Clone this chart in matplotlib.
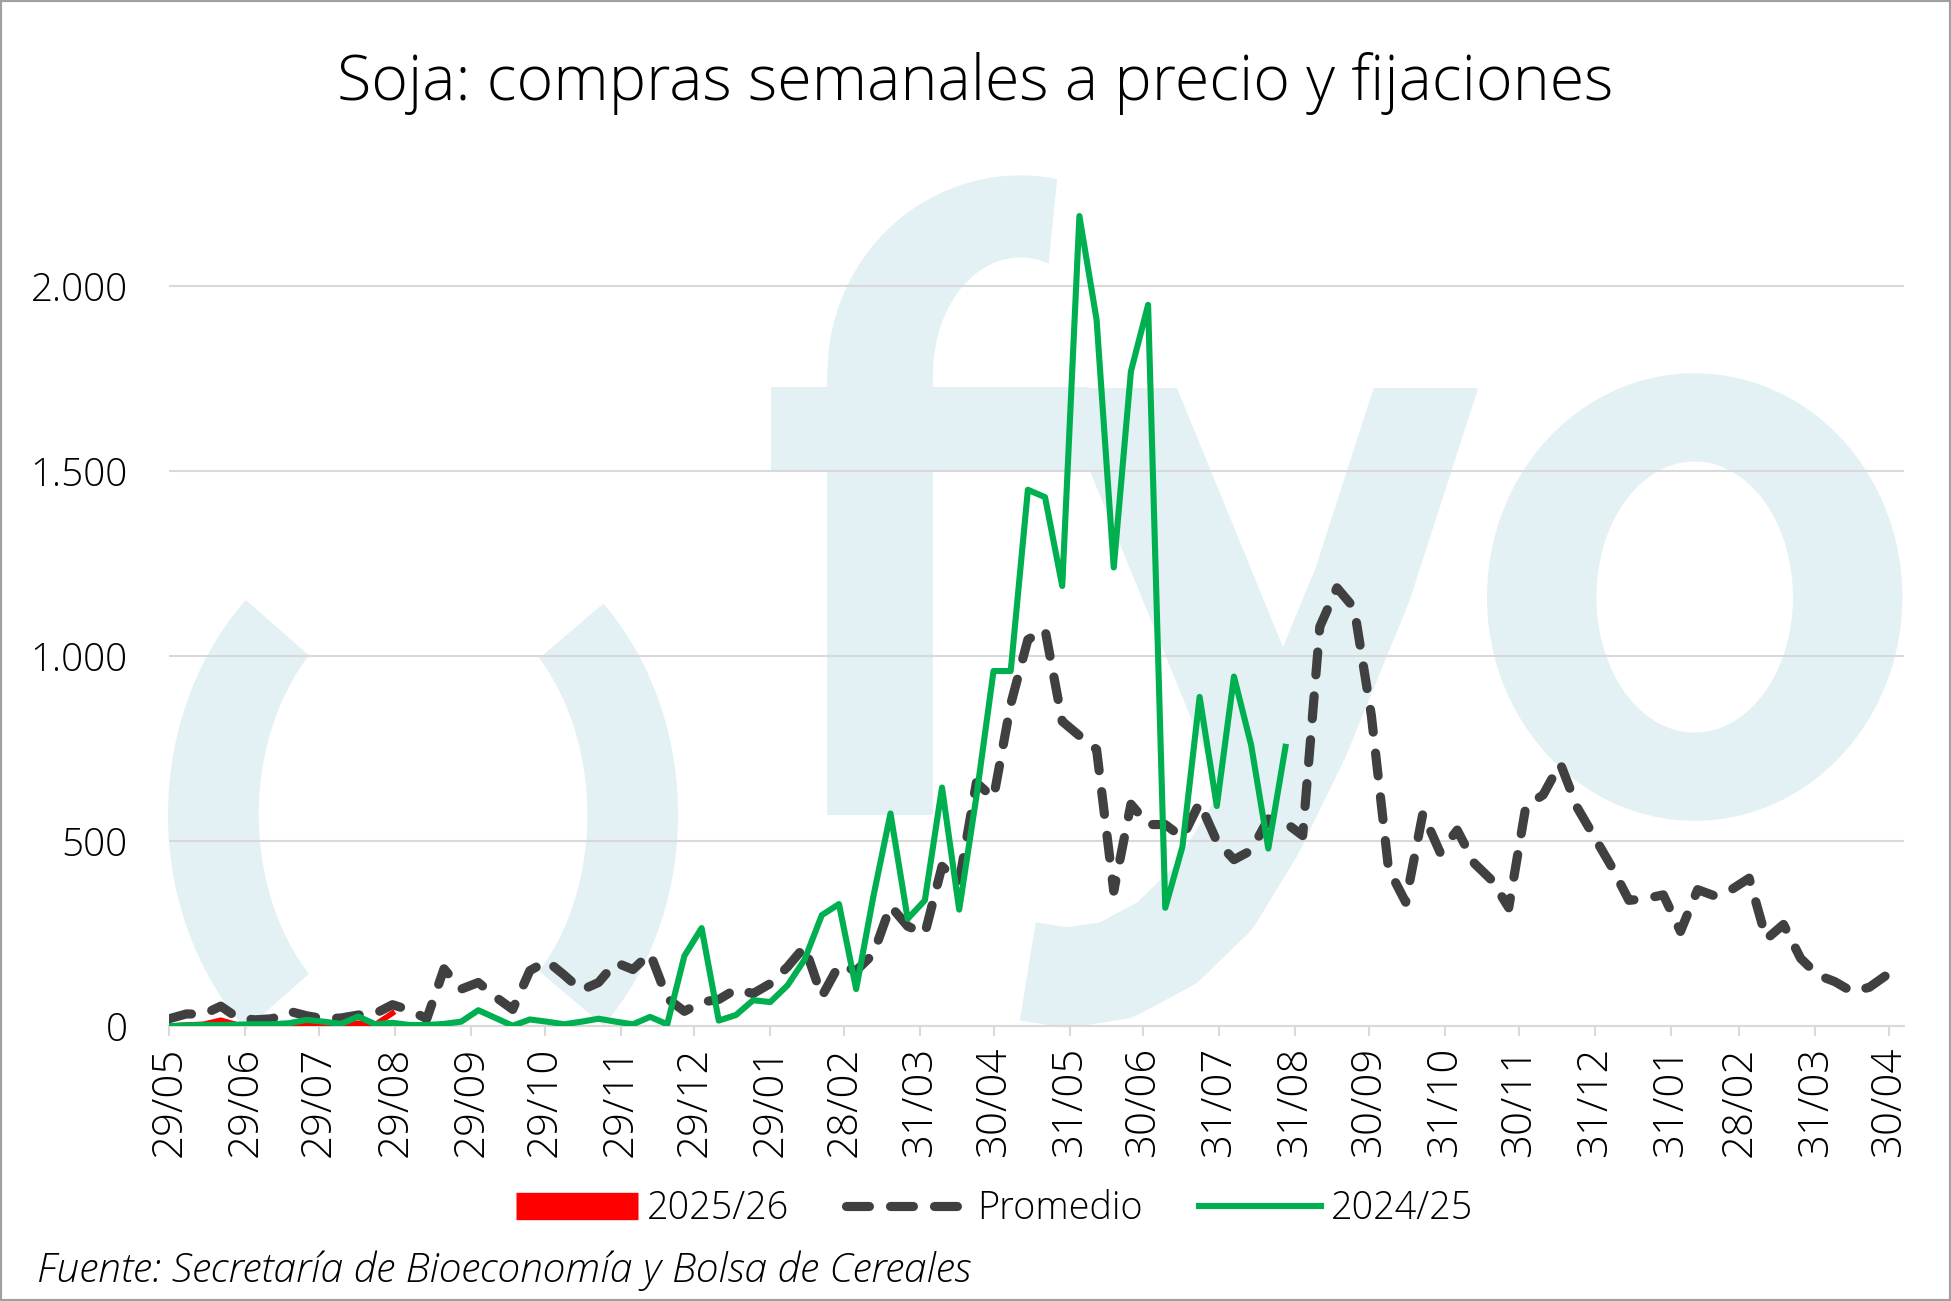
import numpy as np
import pandas as pd
import matplotlib
matplotlib.use('Agg')
import matplotlib.pyplot as plt
from matplotlib import font_manager as fm
from matplotlib.font_manager import FontProperties
from matplotlib.lines import Line2D
from matplotlib.patches import Polygon, Rectangle

# weekly series
promedio = [20, 33, 32, 54, 22, 17, 20, 40, 28, 20, 22, 30, 34, 58, 43, 20, 155, 100, 118, 79,
            45, 150, 176, 138, 97, 118, 172, 153, 197, 75, 40, 65, 72, 100, 88, 115, 160, 215, 80, 165,
            150, 195, 325, 270, 250, 432, 390, 658, 617, 870, 1045, 1072, 824, 785, 748, 365, 600, 545, 545, 510,
            604, 500, 450, 475, 560, 550, 515, 1080, 1185, 1130, 840, 425, 335, 575, 470, 530, 440, 395, 320, 595,
            625, 710, 590, 510, 430, 340, 345, 355, 256, 369, 352, 370, 400, 235, 275, 183, 138, 120, 93, 105,
            138, 122]
campana_2425 = [0, 2, 3, 3, 4, 5, 5, 8, 17, 12, 6, 26, 5, 9, 3, 3, 6, 12, 43, 22,
                1, 18, 12, 5, 12, 20, 12, 5, 25, 5, 190, 265, 15, 30, 70, 65, 110, 180, 300, 330,
                100, 350, 575, 290, 340, 645, 315, 620, 960, 960, 1450, 1430, 1190, 2190, 1910, 1240, 1770, 1950, 320, 485,
                890, 595, 945, 760, 480, 755]
campana_2526 = [0, 3, 5, 16, 3, 2, 2, 5, 3, 4, 3, 8, 4, 35]

start_date = '2021-05-29'
tick_dates = ['2021-05-29', '2021-06-29', '2021-07-29', '2021-08-29', '2021-09-29', '2021-10-29',
              '2021-11-29', '2021-12-29', '2022-01-29', '2022-02-28', '2022-03-31', '2022-04-30',
              '2022-05-31', '2022-06-30', '2022-07-31', '2022-08-31', '2022-09-30', '2022-10-31',
              '2022-11-30', '2022-12-31', '2023-01-31', '2023-02-28', '2023-03-31', '2023-04-30']
y_ticks = [0, 500, 1000, 1500, 2000]
y_labels = ['0', '500', '1.000', '1.500', '2.000']
series_names = ['2025/26', 'Promedio', '2024/25']

title = 'Soja: compras semanales a precio y fijaciones'
source = 'Fuente: Secretaría de Bioeconomía y Bolsa de Cereales'

C_RED = '#FF0000'
C_PROM = '#404040'
C_GREEN = '#00B050'
C_GRID = '#D9D9D9'
C_WM = '#E3F1F5'

W_REF, H_REF = 1568.0, 1046.0   # coords measured on the reference preview


def find_font(families, stretches, weight, italic=False):
    wmap = {'ultralight': 200, 'light': 300, 'normal': 400, 'regular': 400, 'book': 400,
            'medium': 500, 'semibold': 600, 'bold': 700}
    best, best_score = None, 1e9
    for f in fm.fontManager.ttflist:
        if f.name not in families:
            continue
        if italic != (f.style in ('italic', 'oblique')):
            continue
        w = f.weight if isinstance(f.weight, (int, float)) else wmap.get(str(f.weight).lower(), 400)
        s = stretches.index(f.stretch) if f.stretch in stretches else 5
        score = s + abs(w - weight) / 100.0 + families.index(f.name) * 0.1
        if score < best_score:
            best, best_score = f, score
    if best is None:
        return FontProperties(family='DejaVu Sans', style='italic' if italic else 'normal')
    return FontProperties(fname=best.fname)


fams = ['Noto Sans', 'Open Sans', 'Roboto', 'Lato', 'DejaVu Sans']
tick_font = find_font(fams, ['normal'], 300)
text_font = find_font(fams, ['normal', 'semi-condensed'], 300)
text_it_font = find_font(fams, ['normal', 'semi-condensed'], 300, italic=True)

fig = plt.figure(figsize=(19.51, 13.01), dpi=100)
renderer = fig.canvas.get_renderer()


def fitted(prop, text, target_px):
    p = prop.copy()
    p.set_size(20)
    w, h, d = renderer.get_text_width_height_descent(text, p, ismath=False)
    p.set_size(20 * target_px / w)
    return p


def fxy(pts):
    return [(x / W_REF, 1 - y / H_REF) for x, y in pts]


def ring(cx, cy, ao, bo, ai, bi, to, ti, n=90):
    t1 = np.radians(np.linspace(to[0], to[1], n))
    t2 = np.radians(np.linspace(ti[1], ti[0], n))
    pts = [(cx + ao * np.cos(a), cy - bo * np.sin(a)) for a in t1]
    pts += [(cx + ai * np.cos(a), cy - bi * np.sin(a)) for a in t2]
    return fxy(pts)


def wm_poly(pts):
    fig.add_artist(Polygon(pts, closed=True, transform=fig.transFigure, fc=C_WM, ec='none', zorder=-5))


def wm_stroke(pts, thick, clip_top=None):
    xy = np.array(fxy(pts))
    ln = Line2D(xy[:, 0], xy[:, 1], transform=fig.transFigure, color=C_WM, lw=thick * 0.8959,
                solid_capstyle='butt', solid_joinstyle='round', zorder=-5)
    fig.add_artist(ln)
    if clip_top is not None:
        r = Rectangle((0, 0), 1, 1 - clip_top / H_REF, transform=fig.transFigure)
        ln.set_clip_path(r)


# watermark "( ) f y o"
wm_poly(ring(340, 655, 205, 240, 132, 178, (134, 226), (134, 226)))
wm_poly(ring(340, 655, 205, 240, 132, 178, (-45, 45), (-45, 45)))
wm_poly(ring(820, 300, 155, 159, 70, 93, (79, 180), (71, 180)))
wm_stroke([(707, 655), (707, 298)], 85)
wm_poly(fxy([(620, 311), (875, 311), (875, 379), (620, 379)]))
wm_stroke([(872, 250), (1020, 612)], 90, clip_top=312)
wm_stroke([(1166, 250), (1095, 470), (1045, 592), (1008, 668), (975, 722), (938, 758),
           (897, 780), (857, 786), (826, 781)], 80, clip_top=312)
wm_poly(ring(1362, 480, 167, 180, 79, 109, (0, 360), (0, 360)))

# axes
ax = fig.add_axes([136 / W_REF, 1 - 825 / H_REF, (1530 - 136) / W_REF, 684 / H_REF])
ax.set_facecolor('none')

dates = pd.date_range(start_date, periods=len(promedio), freq='7D')
ax.plot(dates[:len(campana_2526)], campana_2526, color=C_RED, lw=4, zorder=3)
ax.plot(dates, promedio, color=C_PROM, lw=6.6, ls=(0, (2.5, 2.3)), dash_capstyle='round', zorder=4)
ax.plot(dates[:len(campana_2425)], campana_2425, color=C_GREEN, lw=4.4, zorder=5)

ax.set_xlim(dates[0], dates[-1])
ax.set_ylim(0, 2300)

ax.set_yticks(y_ticks)
ax.set_yticklabels(y_labels, fontproperties=fitted(tick_font, '2.000', 97))
ax.yaxis.grid(True, color=C_GRID, lw=1.5)
ax.tick_params(axis='y', length=0, pad=30)

tds = pd.to_datetime(tick_dates)
ax.set_xticks(tds)
ax.set_xticklabels([d.strftime('%d/%m') for d in tds], fontproperties=fitted(tick_font, '29/05', 110),
                   rotation=90, ha='center', va='top')
ax.tick_params(axis='x', length=7, width=1.5, color=C_GRID, pad=8)

for s in ['top', 'right', 'left']:
    ax.spines[s].set_visible(False)
ax.spines['bottom'].set_color(C_GRID)
ax.spines['bottom'].set_linewidth(1.5)

# title and source
fig.text(0.5, 1 - 80 / H_REF, title, ha='center', va='baseline', fontproperties=fitted(text_font, title, 1279))
fig.text(30 / W_REF, 1 - 1031 / H_REF, source, ha='left', va='baseline',
         fontproperties=fitted(text_it_font, source, 936))

# legend
legf = fitted(text_font, 'Promedio', 165)
fpx = legf.get_size_in_points() * 100 / 72.0
handles = [Line2D([], [], color=C_RED, lw=19.7, solid_capstyle='butt'),
           Line2D([], [], color=C_PROM, lw=6.6, ls=(0, (2.5, 2.3)), dash_capstyle='round'),
           Line2D([], [], color=C_GREEN, lw=4.4)]
fig.legend(handles, series_names, loc='center', bbox_to_anchor=(799 / W_REF, 1 - 972 / H_REF), ncol=3,
           frameon=False, prop=legf, handlelength=122 / fpx, handletextpad=9 / fpx,
           columnspacing=57 / fpx, borderpad=0)

fig.add_artist(Rectangle((0, 0), 1, 1, transform=fig.transFigure, fill=False, ec='#A0A0A0', lw=3))

fig.savefig('out.png', dpi=100)
